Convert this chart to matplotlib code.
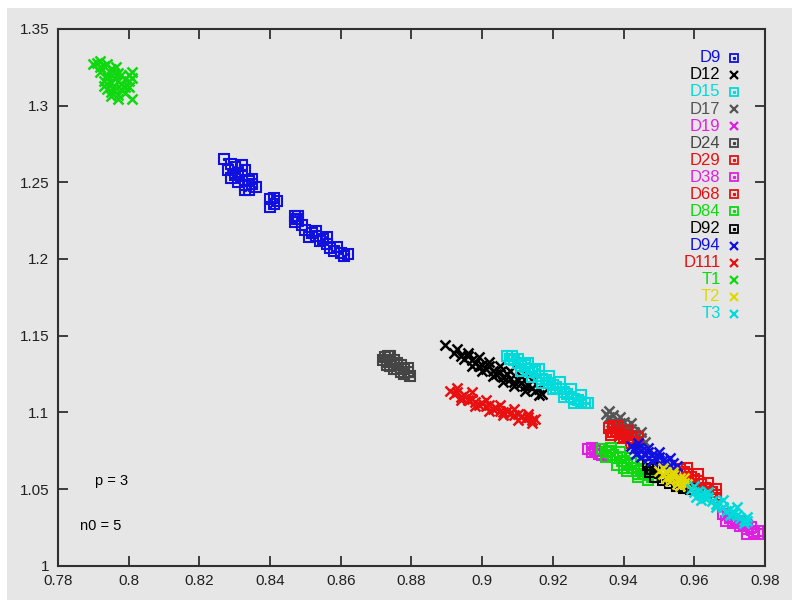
import matplotlib
matplotlib.use('Agg')
import matplotlib.pyplot as plt
from matplotlib.patches import Rectangle

# data points (x, y)
d9 = [(0.827, 1.265), (0.829, 1.262), (0.828, 1.258), (0.830, 1.260), (0.831, 1.256),
      (0.829, 1.253), (0.832, 1.254), (0.833, 1.258), (0.834, 1.251), (0.833, 1.248),
      (0.835, 1.249), (0.834, 1.245), (0.836, 1.247), (0.831, 1.250), (0.830, 1.255),
      (0.832, 1.261), (0.840, 1.239), (0.841, 1.236), (0.840, 1.234), (0.842, 1.238),
      (0.841, 1.240), (0.847, 1.228), (0.848, 1.226), (0.847, 1.224), (0.849, 1.222),
      (0.850, 1.219), (0.852, 1.217), (0.851, 1.214), (0.853, 1.215), (0.854, 1.212),
      (0.855, 1.213), (0.856, 1.210), (0.857, 1.207), (0.856, 1.214), (0.858, 1.205),
      (0.859, 1.208), (0.860, 1.204), (0.861, 1.202), (0.862, 1.203), (0.853, 1.218),
      (0.848, 1.228), (0.8475, 1.226), (0.835, 1.252), (0.833, 1.245)]
d12 = [(0.8895, 1.144), (0.892, 1.139), (0.894, 1.137), (0.895, 1.135), (0.897, 1.134),
       (0.898, 1.132), (0.899, 1.130), (0.900, 1.131), (0.901, 1.128), (0.903, 1.127),
       (0.904, 1.125), (0.905, 1.126), (0.906, 1.123), (0.908, 1.122), (0.909, 1.120),
       (0.910, 1.121), (0.911, 1.119), (0.912, 1.117), (0.913, 1.118), (0.914, 1.116),
       (0.915, 1.114), (0.916, 1.115), (0.917, 1.112), (0.902, 1.130), (0.907, 1.125),
       (0.896, 1.137), (0.893, 1.141), (0.896, 1.139), (0.899, 1.136), (0.902, 1.133),
       (0.905, 1.130), (0.908, 1.127), (0.911, 1.124), (0.914, 1.121), (0.897, 1.130),
       (0.900, 1.127), (0.903, 1.124), (0.906, 1.120), (0.909, 1.117), (0.912, 1.114),
       (0.916, 1.111)]
d15 = [(0.907, 1.137), (0.908, 1.135), (0.909, 1.134), (0.910, 1.132), (0.911, 1.130),
       (0.912, 1.131), (0.913, 1.128), (0.914, 1.126), (0.915, 1.127), (0.916, 1.124),
       (0.917, 1.122), (0.918, 1.121), (0.919, 1.119), (0.920, 1.118), (0.921, 1.116),
       (0.922, 1.115), (0.923, 1.113), (0.924, 1.112), (0.925, 1.110), (0.926, 1.109),
       (0.927, 1.108), (0.928, 1.107), (0.929, 1.106), (0.930, 1.106), (0.9085, 1.137),
       (0.910, 1.135), (0.913, 1.132), (0.916, 1.128), (0.919, 1.124), (0.922, 1.120),
       (0.925, 1.115), (0.928, 1.111), (0.911, 1.127), (0.914, 1.123), (0.917, 1.119),
       (0.920, 1.115), (0.923, 1.110), (0.926, 1.106)]
d17 = [(0.935, 1.099), (0.936, 1.097), (0.937, 1.098), (0.938, 1.095), (0.939, 1.093),
       (0.940, 1.094), (0.941, 1.091), (0.942, 1.089), (0.943, 1.087), (0.944, 1.085),
       (0.945, 1.083), (0.946, 1.081), (0.9365, 1.094), (0.936, 1.101), (0.939, 1.097),
       (0.942, 1.093), (0.945, 1.087), (0.938, 1.092), (0.941, 1.088), (0.944, 1.082)]
d19 = [(0.969, 1.033), (0.971, 1.031), (0.973, 1.029), (0.975, 1.027)]
d24 = [(0.8725, 1.136), (0.873, 1.133), (0.874, 1.134), (0.875, 1.131), (0.876, 1.132),
       (0.877, 1.129), (0.878, 1.128), (0.879, 1.126), (0.874, 1.130), (0.876, 1.128),
       (0.8735, 1.137), (0.872, 1.134), (0.874, 1.137), (0.875, 1.134), (0.877, 1.131),
       (0.878, 1.125), (0.879, 1.129), (0.873, 1.131), (0.875, 1.128), (0.877, 1.126),
       (0.8795, 1.124)]
d29 = [(0.936, 1.090), (0.937, 1.087), (0.938, 1.088), (0.939, 1.086), (0.940, 1.084),
       (0.941, 1.085), (0.942, 1.083), (0.943, 1.081), (0.937, 1.091), (0.944, 1.080),
       (0.9365, 1.085), (0.938, 1.091), (0.941, 1.088), (0.944, 1.084), (0.939, 1.083),
       (0.942, 1.080)]
d38 = [(0.930, 1.076), (0.931, 1.074), (0.932, 1.075), (0.933, 1.073), (0.934, 1.072),
       (0.968, 1.034), (0.970, 1.031), (0.972, 1.029), (0.974, 1.027), (0.976, 1.025),
       (0.978, 1.023), (0.977, 1.022), (0.975, 1.024), (0.973, 1.026), (0.931, 1.077),
       (0.933, 1.076), (0.969, 1.029), (0.971, 1.028), (0.975, 1.021), (0.978, 1.021)]
d68 = [(0.956, 1.063), (0.957, 1.061), (0.958, 1.060), (0.959, 1.058), (0.960, 1.056),
       (0.961, 1.055), (0.962, 1.053), (0.963, 1.051), (0.964, 1.050), (0.965, 1.048),
       (0.966, 1.046), (0.9595, 1.052), (0.962, 1.049), (0.958, 1.064), (0.961, 1.060),
       (0.964, 1.054), (0.966, 1.050), (0.959, 1.055), (0.963, 1.048), (0.966, 1.044)]
d84 = [(0.934, 1.076), (0.935, 1.074), (0.936, 1.075), (0.937, 1.072), (0.938, 1.070),
       (0.939, 1.071), (0.940, 1.068), (0.941, 1.066), (0.942, 1.067), (0.943, 1.064),
       (0.944, 1.062), (0.945, 1.063), (0.946, 1.060), (0.947, 1.059), (0.948, 1.058),
       (0.9365, 1.077), (0.940, 1.064), (0.944, 1.060), (0.935, 1.071), (0.938, 1.066),
       (0.941, 1.062), (0.944, 1.058), (0.947, 1.056), (0.939, 1.074), (0.942, 1.070),
       (0.945, 1.066), (0.948, 1.061)]
d92 = [(0.947, 1.066), (0.948, 1.063), (0.9475, 1.061), (0.949, 1.058), (0.951, 1.056),
       (0.953, 1.054), (0.955, 1.052), (0.957, 1.051), (0.959, 1.050), (0.949, 1.064)]
d94 = [(0.942, 1.078), (0.943, 1.076), (0.944, 1.077), (0.945, 1.075), (0.946, 1.073),
       (0.947, 1.074), (0.948, 1.072), (0.949, 1.070), (0.950, 1.071), (0.951, 1.069),
       (0.952, 1.068), (0.953, 1.066), (0.954, 1.067), (0.955, 1.065), (0.9435, 1.073),
       (0.947, 1.070), (0.944, 1.080), (0.947, 1.077), (0.950, 1.074), (0.953, 1.070),
       (0.945, 1.071), (0.948, 1.068), (0.951, 1.065), (0.954, 1.063)]
d111 = [(0.891, 1.114), (0.892, 1.112), (0.893, 1.113), (0.894, 1.110), (0.895, 1.111),
        (0.896, 1.108), (0.897, 1.109), (0.898, 1.107), (0.899, 1.105), (0.900, 1.106),
        (0.901, 1.104), (0.902, 1.105), (0.903, 1.102), (0.904, 1.103), (0.905, 1.101),
        (0.906, 1.100), (0.907, 1.101), (0.908, 1.099), (0.909, 1.098), (0.910, 1.099),
        (0.911, 1.097), (0.912, 1.096), (0.913, 1.097), (0.914, 1.095), (0.915, 1.096),
        (0.893, 1.116), (0.897, 1.113), (0.901, 1.108), (0.905, 1.105), (0.909, 1.102),
        (0.913, 1.099), (0.894, 1.108), (0.898, 1.104), (0.902, 1.101), (0.906, 1.098),
        (0.910, 1.095), (0.914, 1.093)]
t1 = [(0.791, 1.328), (0.793, 1.326), (0.792, 1.322), (0.794, 1.320), (0.795, 1.324),
      (0.796, 1.318), (0.797, 1.321), (0.795, 1.315), (0.794, 1.311), (0.796, 1.310),
      (0.798, 1.314), (0.799, 1.317), (0.800, 1.320), (0.797, 1.307), (0.799, 1.308),
      (0.801, 1.322), (0.801, 1.304), (0.798, 1.311), (0.796, 1.313), (0.793, 1.316),
      (0.800, 1.312), (0.795, 1.306), (0.792, 1.329), (0.794, 1.327), (0.7965, 1.325),
      (0.790, 1.327), (0.792, 1.325), (0.797, 1.316), (0.799, 1.312), (0.797, 1.304),
      (0.795, 1.309), (0.793, 1.313), (0.800, 1.316), (0.798, 1.320), (0.801, 1.318),
      (0.794, 1.318), (0.796, 1.321)]
t2 = [(0.950, 1.062), (0.951, 1.060), (0.952, 1.061), (0.953, 1.058), (0.954, 1.059),
      (0.955, 1.056), (0.956, 1.057), (0.957, 1.054), (0.958, 1.053), (0.952, 1.057),
      (0.955, 1.053), (0.951, 1.064), (0.954, 1.061), (0.957, 1.057), (0.953, 1.055),
      (0.956, 1.052)]
t3 = [(0.959, 1.050), (0.960, 1.048), (0.961, 1.049), (0.962, 1.046), (0.963, 1.044),
      (0.964, 1.045), (0.965, 1.042), (0.966, 1.040), (0.967, 1.041), (0.968, 1.038),
      (0.969, 1.036), (0.970, 1.037), (0.971, 1.034), (0.972, 1.033), (0.973, 1.031),
      (0.974, 1.030), (0.975, 1.029), (0.9605, 1.045), (0.963, 1.047), (0.960, 1.052),
      (0.964, 1.048), (0.968, 1.043), (0.972, 1.038), (0.975, 1.032), (0.962, 1.043),
      (0.966, 1.038), (0.970, 1.033), (0.974, 1.028)]

names = ['D9', 'D12', 'D15', 'D17', 'D19', 'D24', 'D29', 'D38', 'D68', 'D84',
         'D92', 'D94', 'D111', 'T1', 'T2', 'T3']
series = [d9, d12, d15, d17, d19, d24, d29, d38, d68, d84, d92, d94, d111, t1, t2, t3]
colors = ['#1010e0', '#000000', '#00dada', '#555555', '#e020e0', '#454545', '#e81010',
          '#e020e0', '#e81010', '#10d810', '#000000', '#1010e0', '#e81010', '#10d810',
          '#e0d800', '#00dada']
markers = ['s', 'x', 's', 'x', 'x', 's', 's', 's', 's', 's', 's', 'x', 'x', 'x', 'x', 'x']

bg = '#e6e6e6'
fig = plt.figure(figsize=(7.92, 6), dpi=100, facecolor='white')
fig.patches.append(Rectangle((0.009, 0), 0.991, 0.987, transform=fig.transFigure,
                             facecolor=bg, edgecolor='none', zorder=-10))
ax = fig.add_axes([0.073, 0.057, 0.893, 0.895])
ax.set_facecolor(bg)

for pts, c, m in zip(series, colors, markers):
    xs = [p[0] for p in pts]
    ys = [p[1] for p in pts]
    if m == 's':
        ax.plot(xs, ys, ls='none', marker='s', ms=6.5, mfc='none', mec=c, mew=1.5)
        ax.plot(xs, ys, ls='none', marker='s', ms=1.3, mfc=c, mec=c)
    else:
        ax.plot(xs, ys, ls='none', marker='x', ms=7, mec=c, mew=1.8)

# gnuplot-style key, text right aligned, symbol to the right
for i, (n, c, m) in enumerate(zip(names, colors, markers)):
    yy = 0.946 - i * 0.0318
    ax.text(0.937, yy, n, color=c, ha='right', va='center', fontsize=12,
            family=['Liberation Sans', 'DejaVu Sans'], transform=ax.transAxes)
    if m == 's':
        ax.plot([0.956], [yy], marker='s', ms=6, mfc='none', mec=c, mew=1.3,
                transform=ax.transAxes)
        ax.plot([0.956], [yy], marker='s', ms=1.3, mfc=c, mec=c, transform=ax.transAxes)
    else:
        ax.plot([0.956], [yy], marker='x', ms=6, mec=c, mew=1.6, transform=ax.transAxes)

ax.text(0.7953, 1.0554, 'p = 3', fontsize=10.5, ha='center', va='center',
        family=['Liberation Sans', 'DejaVu Sans'])
ax.text(0.792, 1.026, 'n0 = 5', fontsize=10.5, ha='center', va='center',
        family=['Liberation Sans', 'DejaVu Sans'])

ax.set_xlim(0.78, 0.98)
ax.set_ylim(1.0, 1.35)
xt = [0.78, 0.80, 0.82, 0.84, 0.86, 0.88, 0.90, 0.92, 0.94, 0.96, 0.98]
yt = [1.0, 1.05, 1.1, 1.15, 1.2, 1.25, 1.3, 1.35]
ax.set_xticks(xt)
ax.set_xticklabels(['%g' % v for v in xt])
ax.set_yticks(yt)
ax.set_yticklabels(['%g' % v for v in yt])
ax.tick_params(direction='in', length=7, width=1.2, top=True, right=True,
               labelsize=11, pad=6, colors='#202020')
for lab in ax.get_xticklabels() + ax.get_yticklabels():
    lab.set_family(['Liberation Sans Narrow', 'Liberation Sans', 'DejaVu Sans'])
for s in ax.spines.values():
    s.set_linewidth(1.5)
    s.set_color('#303030')

fig.savefig('out.png', dpi=100, facecolor=fig.get_facecolor())
